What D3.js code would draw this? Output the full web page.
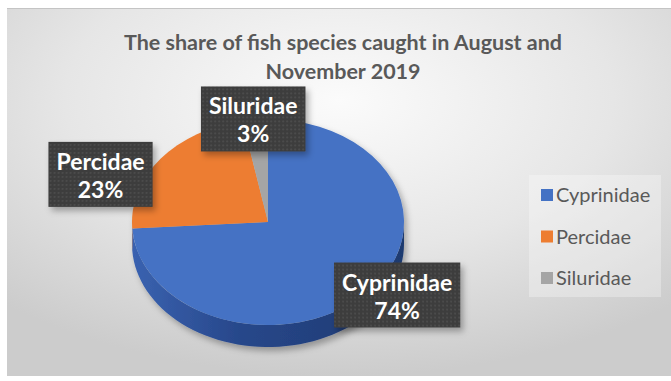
<!DOCTYPE html>
<html>
<head>
<meta charset="utf-8">
<script src="https://cdn.jsdelivr.net/npm/d3@7"></script>
<style>
  body { margin: 0; background: #fff; }
  svg { display: block; }
</style>
</head>
<body>
<div id="chart"></div>
<script>
// chart data
var categories = ["Cyprinidae", "Percidae", "Siluridae"];
var shares = [74, 23, 3];
var titleLines = ["The share of fish species caught in August and", "November 2019"];

var topColors = ["#4472C4", "#ED7D31", "#A5A5A5"];
var sideColors = ["url(#sideBlue)", "#B85F22", "#808080"];
// label box nudges from the slice's outer edge
var labelNudge = [[30, 3], [-60, 16], [-2, 0]];

var W = 671, H = 381;
var cx = 268, cy = 222, rx = 136, ry = 103, depth = 22;

var svg = d3.select("#chart").append("svg")
    .attr("width", W).attr("height", H);

var defs = svg.append("defs");

var bg = defs.append("radialGradient").attr("id", "bgGrad")
    .attr("cx", "50%").attr("cy", "25%").attr("r", "75%");
bg.append("stop").attr("offset", "0%").attr("stop-color", "#fbfbfb");
bg.append("stop").attr("offset", "55%").attr("stop-color", "#e6e6e6");
bg.append("stop").attr("offset", "100%").attr("stop-color", "#cccccc");

var sb = defs.append("linearGradient").attr("id", "sideBlue")
    .attr("x1", "0%").attr("x2", "100%").attr("y1", "0%").attr("y2", "0%");
sb.append("stop").attr("offset", "0%").attr("stop-color", "#3a62b0");
sb.append("stop").attr("offset", "40%").attr("stop-color", "#27478a");
sb.append("stop").attr("offset", "100%").attr("stop-color", "#1f3a70");

var shadow = defs.append("filter").attr("id", "shadow")
    .attr("x", "-20%").attr("y", "-20%").attr("width", "140%").attr("height", "140%");
shadow.append("feDropShadow").attr("dx", 3).attr("dy", 4)
    .attr("stdDeviation", 3).attr("flood-color", "#000").attr("flood-opacity", 0.3);

var dots = defs.append("pattern").attr("id", "dots")
    .attr("width", 4).attr("height", 4).attr("patternUnits", "userSpaceOnUse");
dots.append("rect").attr("width", 4).attr("height", 4).attr("fill", "#3c3c3c");
dots.append("circle").attr("cx", 2).attr("cy", 2).attr("r", 0.8).attr("fill", "#5e5e5e");

// chart area
svg.append("rect")
    .attr("x", 7).attr("y", 8).attr("width", W - 7).attr("height", 368)
    .attr("fill", "url(#bgGrad)");
svg.append("line")
    .attr("x1", 7).attr("x2", W).attr("y1", 8.5).attr("y2", 8.5)
    .attr("stroke", "#c4c4c4");

// title
svg.append("g").selectAll("text")
    .data(titleLines)
    .enter().append("text")
    .attr("x", 343)
    .attr("y", function (d, i) { return 50 + i * 29; })
    .attr("text-anchor", "middle")
    .attr("font-family", "Lato, sans-serif")
    .attr("font-weight", "bold")
    .attr("font-size", "21.5px")
    .attr("fill", "#595959")
    .text(function (d) { return d; });

// pie
var pie = d3.pie().sort(null).value(function (d) { return d; });
var arcs = pie(shares);

var pieG = svg.append("g").attr("filter", "url(#shadow)");

function ellipsePt(a, dy) {
    return [cx + rx * Math.sin(a), cy - ry * Math.cos(a) + dy];
}

// side walls, only the front half (right -> bottom -> left)
arcs.forEach(function (a, i) {
    var a0 = Math.max(a.startAngle, Math.PI / 2);
    var a1 = Math.min(a.endAngle, 3 * Math.PI / 2);
    if (a1 <= a0) return;
    var n = 60, pts = [];
    for (var k = 0; k <= n; k++) pts.push(ellipsePt(a0 + (a1 - a0) * k / n, 0));
    for (var k = n; k >= 0; k--) pts.push(ellipsePt(a0 + (a1 - a0) * k / n, depth));
    pieG.append("path")
        .attr("d", d3.line()(pts) + "Z")
        .attr("fill", sideColors[i]);
});

// top face
var arc = d3.arc().innerRadius(0).outerRadius(rx);
pieG.append("g")
    .attr("transform", "translate(" + cx + "," + cy + ") scale(1," + (ry / rx) + ")")
    .selectAll("path")
    .data(arcs)
    .enter().append("path")
    .attr("d", arc)
    .attr("fill", function (d, i) { return topColors[i]; });

// data labels
var labels = svg.append("g").selectAll("g")
    .data(arcs)
    .enter().append("g")
    .attr("transform", function (d, i) {
        var mid = (d.startAngle + d.endAngle) / 2;
        var p = ellipsePt(mid, 0);
        return "translate(" + (p[0] + labelNudge[i][0]) + "," + (p[1] + labelNudge[i][1]) + ")";
    });

var boxes = labels.append("rect")
    .attr("fill", "url(#dots)")
    .attr("filter", "url(#shadow)");

labels.append("text")
    .attr("text-anchor", "middle")
    .attr("font-family", "Lato, sans-serif")
    .attr("font-weight", "bold")
    .attr("font-size", "23px")
    .attr("fill", "#ffffff")
    .each(function (d, i) {
        var t = d3.select(this);
        t.append("tspan").attr("x", 0).attr("y", -5).text(categories[i]);
        t.append("tspan").attr("x", 0).attr("y", 23).text(d.data + "%");
    });

labels.each(function () {
    var g = d3.select(this);
    var w = g.select("text").node().getBBox().width + 16;
    g.select("rect")
        .attr("x", -w / 2).attr("y", -33)
        .attr("width", w).attr("height", 65);
});

// legend
var legend = svg.append("g");
legend.append("rect")
    .attr("x", 529).attr("y", 175).attr("width", 132).attr("height", 122)
    .attr("fill", "#ffffff").attr("fill-opacity", 0.3);

var items = legend.selectAll("g.item")
    .data(categories)
    .enter().append("g")
    .attr("class", "item")
    .attr("transform", function (d, i) { return "translate(541," + (195 + i * 41.5) + ")"; });

items.append("rect")
    .attr("x", 0).attr("y", -6)
    .attr("width", 12).attr("height", 12)
    .attr("fill", function (d, i) { return topColors[i]; });

items.append("text")
    .attr("x", 15).attr("y", 7)
    .attr("font-family", "Lato, sans-serif")
    .attr("font-size", "20px")
    .attr("fill", "#595959")
    .text(function (d) { return d; });
</script>
</body>
</html>
